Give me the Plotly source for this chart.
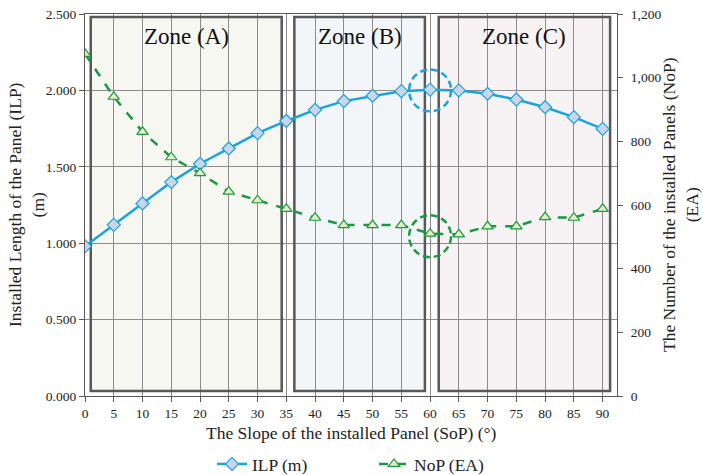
import plotly.graph_objects as go

slope = [0, 5, 10, 15, 20, 25, 30, 35, 40, 45, 50, 55, 60, 65, 70, 75, 80, 85, 90]
ilp = [0.98, 1.12, 1.26, 1.40, 1.52, 1.62, 1.72, 1.80, 1.873, 1.93, 1.965, 1.995, 2.005,
       2.00, 1.978, 1.94, 1.89, 1.825, 1.748]
nop = [1075, 940, 830, 750, 700, 642, 615, 588, 560, 537, 537, 537, 510,
       508, 533, 533, 562, 560, 588]

zone_names = ["Zone (A)", "Zone (B)", "Zone (C)"]
zone_x0 = [1.0, 36.4, 61.5]
zone_x1 = [34.2, 59.1, 91.3]
zone_fill = ["#f7f7f2", "#f2f6f8", "#f7f3f4"]

SERIF = "Liberation Serif"
PW, PH = 532.0, 381.7   # plot area size in px
fig = go.Figure()

fig.add_trace(go.Scatter(
    x=slope, y=ilp, name="ILP (m)", mode="lines+markers",
    line=dict(color="#1aa3dd", width=2.5),
    marker=dict(symbol="diamond", size=10, color="#c9d6ea",
                line=dict(color="#1aa3dd", width=1.2)),
))
fig.add_trace(go.Scatter(
    x=slope, y=nop, name="NoP (EA)", mode="lines+markers", yaxis="y2",
    line=dict(color="#1a9a40", width=2.5, dash="dash"),
    marker=dict(symbol="triangle-up", size=10, color="#e4ecc8",
                line=dict(color="#1a9a40", width=1.2)),
))

shapes = []
annotations = []
for name, x0, x1, fc in zip(zone_names, zone_x0, zone_x1, zone_fill):
    shapes.append(dict(type="rect", xref="x", yref="y", x0=x0, x1=x1, y0=0.033, y1=2.48,
                       fillcolor=fc, line=dict(width=0), layer="below"))
    shapes.append(dict(type="rect", xref="x", yref="y", x0=x0, x1=x1, y0=0.033, y1=2.48,
                       fillcolor="rgba(0,0,0,0)", line=dict(color="#585858", width=2.5),
                       layer="between"))
    annotations.append(dict(text=name, x=(x0 + x1) / 2, y=2.35, xref="x", yref="y",
                            showarrow=False, font=dict(family=SERIF, size=23, color="#111")))

# highlight circles
shapes.append(dict(type="circle", xref="x", yref="y", x0=60 - 3.65, x1=60 + 3.65,
                   y0=2.0 - 0.137, y1=2.0 + 0.137,
                   line=dict(color="#1aa3dd", width=2.5, dash="7px,4px"), layer="above"))
shapes.append(dict(type="circle", xref="x", yref="y2", x0=60 - 3.65, x1=60 + 3.65,
                   y0=502 - 66, y1=502 + 66,
                   line=dict(color="#1a9a40", width=2.5, dash="7px,4px"), layer="above"))

annotations += [
    dict(text="Installed Length of the Panel (ILP)<br>(m)", xref="paper", yref="paper",
         x=(26 - 85) / PW, y=0.5, xanchor="center", yanchor="middle", textangle=-90,
         showarrow=False, font=dict(family=SERIF, size=17.5, color="#222")),
    dict(text="The Number of the installed Panels (NoP)<br>(EA)", xref="paper", yref="paper",
         x=(680 - 85) / PW, y=0.5, xanchor="center", yanchor="middle", textangle=-90,
         showarrow=False, font=dict(family=SERIF, size=17.5, color="#222")),
    dict(text="The Slope of the installed Panel (SoP) (°)", xref="paper", yref="paper",
         x=0.5, y=-(433 - 396) / PH, xanchor="center", yanchor="middle", showarrow=False,
         font=dict(family=SERIF, size=17.5, color="#222")),
]

fig.update_layout(
    width=703, height=475,
    margin=dict(l=85, r=86, t=14, b=79, autoexpand=False),
    paper_bgcolor="white", plot_bgcolor="white",
    font=dict(family=SERIF, size=13, color="#222"),
    shapes=shapes, annotations=annotations,
    xaxis=dict(range=[0, 92.5], tickvals=slope, showgrid=True, gridcolor="#8c8c8c",
               gridwidth=1, showline=True, linecolor="#595959", linewidth=1.2, mirror=True,
               ticks="outside", ticklen=5, tickcolor="#595959", zeroline=False,
               ticklabelstandoff=0, automargin=False,
               tickfont=dict(family=SERIF, size=13.5)),
    yaxis=dict(range=[0, 2.5], dtick=0.5, tickformat=".3f", showgrid=True,
               gridcolor="#8c8c8c", gridwidth=1, showline=True, linecolor="#595959",
               linewidth=1.2, ticks="outside", ticklen=5, tickcolor="#595959",
               zeroline=False, automargin=False, tickfont=dict(family=SERIF, size=13.5)),
    yaxis2=dict(range=[0, 1200], dtick=200, tickformat=",d", overlaying="y", side="right",
                showgrid=False, showline=True, linecolor="#595959", linewidth=1.2,
                ticks="outside", ticklen=5, tickcolor="#595959", zeroline=False,
                ticklabelstandoff=5, automargin=False,
                tickfont=dict(family=SERIF, size=13.5)),
    legend=dict(orientation="h", x=(212 - 85) / PW, xanchor="left",
                y=-(464 - 396) / PH, yanchor="middle",
                font=dict(family=SERIF, size=17.5), entrywidth=117, bgcolor="rgba(0,0,0,0)"),
)

fig.write_html("out.html")
